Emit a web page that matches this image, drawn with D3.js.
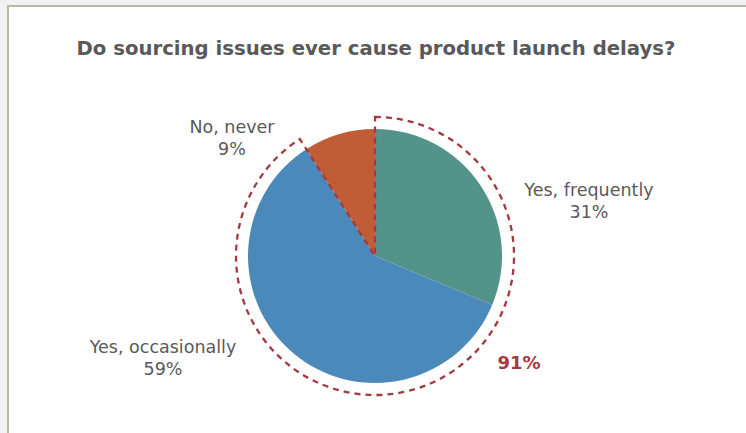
<html>
    <head>
        <script src="https://d3js.org/d3.v7.min.js"></script>
        <style>
            body { margin: 0; background: #f1f1f1; }
            svg { display: block; }
        </style>
    </head>
    <body>
        <svg id="svg" width="746" height="433"></svg>
        <script>
            var categories = ["Yes, frequently", "Yes, occasionally", "No, never"];
            var values = [31, 59, 9];
            var colors = ["#54938a", "#4a89ba", "#c15d36"];
            var title = "Do sourcing issues ever cause product launch delays?";
            var highlightLabel = "91%";

            var svg = d3.select("svg");
            var width = +svg.attr("width");
            var height = +svg.attr("height");

            // card background with border
            svg.append("rect")
                .attr("x", 8).attr("y", 6)
                .attr("width", width).attr("height", height)
                .attr("fill", "#fff")
                .attr("stroke", "#bab6a4")
                .attr("stroke-width", 2);

            svg.append("text")
                .attr("x", 376).attr("y", 55)
                .attr("text-anchor", "middle")
                .attr("font-family", "DejaVu Sans")
                .attr("font-size", 19.7)
                .attr("font-weight", "bold")
                .attr("fill", "#595959")
                .text(title);

            var centX = 375, centY = 256, radius = 127;
            var group = svg.append("g").attr("transform", "translate(" + centX + "," + centY + ")");

            var pie = d3.pie().sort(null).value(function(d){ return d; });
            var arcs = pie(values);
            var arc = d3.arc().innerRadius(0).outerRadius(radius);

            group.selectAll("path.slice").data(arcs).enter().append("path")
                .attr("class", "slice")
                .attr("d", arc)
                .attr("fill", function(d, i){ return colors[i]; });

            // dashed outline round the two "yes" slices
            var total = d3.sum(values);
            var yesEnd = (values[0] + values[1]) / total * 2 * Math.PI;
            group.append("path")
                .attr("d", d3.arc().innerRadius(0).outerRadius(139)({startAngle: 0, endAngle: yesEnd}))
                .attr("fill", "none")
                .attr("stroke", "#a6393f")
                .attr("stroke-width", 2.3)
                .attr("stroke-dasharray", "6,5");

            var labelPos = [[589, 196], [163, 353], [232, 133]];
            var labels = svg.append("g")
                .attr("font-family", "DejaVu Sans")
                .attr("font-size", 17.5)
                .attr("fill", "#595959")
                .attr("text-anchor", "middle");
            categories.forEach(function(c, i){
                var t = labels.append("text").attr("x", labelPos[i][0]).attr("y", labelPos[i][1]);
                t.append("tspan").attr("x", labelPos[i][0]).text(c);
                t.append("tspan").attr("x", labelPos[i][0]).attr("dy", 22).text(values[i] + "%");
            });

            svg.append("text")
                .attr("x", 519).attr("y", 369)
                .attr("text-anchor", "middle")
                .attr("font-family", "DejaVu Sans")
                .attr("font-size", 18)
                .attr("font-weight", "bold")
                .attr("fill", "#a6393f")
                .text(highlightLabel);
        </script>
    </body>
</html>
